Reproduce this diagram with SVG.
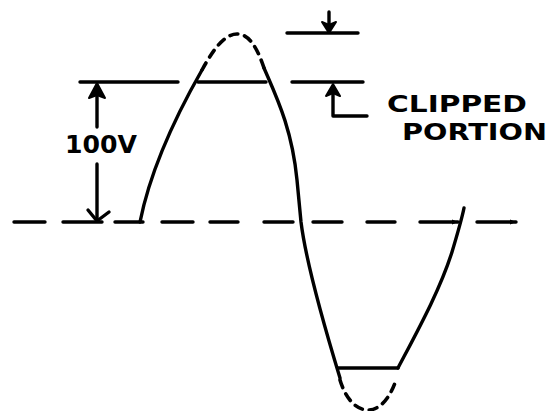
<svg xmlns="http://www.w3.org/2000/svg" width="554" height="411" viewBox="0 0 554 411">
<style>
.s{fill:none;stroke:#000;stroke-width:3.4;stroke-linecap:round;stroke-linejoin:round}
.d{fill:none;stroke:#000;stroke-width:3.6;stroke-linecap:round;stroke-dasharray:8 7}
.h{fill:#000;stroke:#000;stroke-width:2;stroke-linejoin:round}
.t{font-family:"DejaVu Sans","Liberation Sans",sans-serif;font-weight:bold;fill:#000}
</style>
<defs>
<marker id="tip" markerWidth="8" markerHeight="8" refX="6" refY="4" orient="auto" markerUnits="userSpaceOnUse">
<path d="M0,1.5 L6,4 L0,6.5 Z" fill="#000"/>
</marker>
</defs>
<rect width="554" height="411" fill="#fff"/>
<g id="baseline">
<path class="s" d="M14,222H45M63,222H102M115,222H143M162,222H193M210,222H238M264,222H293M313,222H342M367,222H395"/>
<path class="s" d="M420,222H458" marker-end="url(#tip)"/>
<path class="s" d="M477,222H516" marker-end="url(#tip)"/>
</g>
<g id="waveform">
<path class="s" d="M140,222 C146,192 162,140 202,70"/>
<path class="d" d="M202,70 C214,48 225,34 237,34 C250,34 258,50 264,68"/>
<path class="s" d="M264,68 C276,96 292,128 297,180 L301,222 C306,262 326,332 340,378"/>
<path class="d" d="M340,380 C346,400 357,410 368,410 C380,410 390,398 396,380"/>
<path class="s" d="M398,368 C418,330 440,290 452,252 C458,232 462,218 464,208"/>
<path class="s" d="M198,82H266M338,368H398"/>
</g>
<g id="clip-levels">
<path class="s" d="M80,82H178M292,82H363M287,33H358"/>
</g>
<g id="connectors">
<path class="s" d="M97,86V127M97,164V220"/>
<path class="h" d="M97,83 L89,98 L97,95 L105,98 Z"/>
<path class="s" d="M88,210 L97,221 L109,212"/>
<path class="s" d="M329,12V30"/>
<path class="h" d="M329,33 L322,22 L329,25 L336,22 Z"/>
<path class="s" d="M333,88V116H367"/>
<path class="h" d="M333,84 L326,96 L333,93 L340,96 Z"/>
</g>
<g id="labels">
<text class="t" x="65" y="153" font-size="25" textLength="72" lengthAdjust="spacingAndGlyphs">100V</text>
<text class="t" x="387" y="112" font-size="23" textLength="140" lengthAdjust="spacingAndGlyphs">CLIPPED</text>
<text class="t" x="402" y="140" font-size="23" textLength="145" lengthAdjust="spacingAndGlyphs">PORTION</text>
</g>
</svg>
